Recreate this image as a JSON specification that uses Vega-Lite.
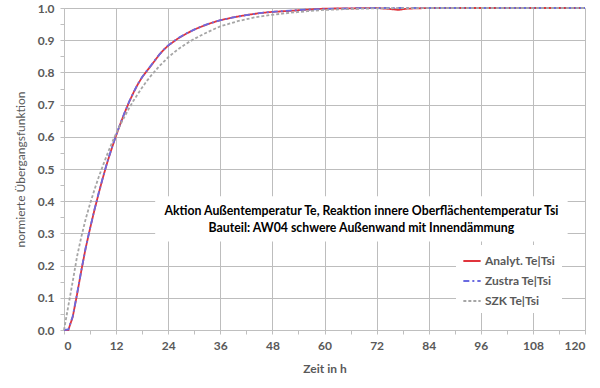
{
  "$schema": "https://vega.github.io/schema/vega-lite/v6.json",
  "width": 521,
  "height": 322,
  "autosize": {"type": "none"},
  "padding": {"left": 64, "top": 8, "right": 15, "bottom": 58},
  "background": "white",
  "config": {
    "view": {"stroke": null},
    "font": "Lato",
    "axis": {
      "labelFont": "Lato", "labelFontWeight": "bold", "labelColor": "#595959", "labelFontSize": 12,
      "titleFont": "Lato", "titleColor": "#595959", "titleFontSize": 12,
      "gridColor": "#bdbdbd", "gridWidth": 1, "domainColor": "#bfbfbf", "tickColor": "#bfbfbf", "tickSize": 4,
      "grid": true, "labelOverlap": false
    }
  },
  "datasets": {
    "curves": [
      {"t": 0, "v": 0, "s": "Analyt. Te|Tsi"},
      {"t": 1, "v": 0.0, "s": "Analyt. Te|Tsi"},
      {"t": 2, "v": 0.04, "s": "Analyt. Te|Tsi"},
      {"t": 3, "v": 0.11, "s": "Analyt. Te|Tsi"},
      {"t": 4, "v": 0.185, "s": "Analyt. Te|Tsi"},
      {"t": 5, "v": 0.255, "s": "Analyt. Te|Tsi"},
      {"t": 6, "v": 0.315, "s": "Analyt. Te|Tsi"},
      {"t": 7, "v": 0.372, "s": "Analyt. Te|Tsi"},
      {"t": 8, "v": 0.425, "s": "Analyt. Te|Tsi"},
      {"t": 9, "v": 0.475, "s": "Analyt. Te|Tsi"},
      {"t": 10, "v": 0.522, "s": "Analyt. Te|Tsi"},
      {"t": 11, "v": 0.564, "s": "Analyt. Te|Tsi"},
      {"t": 12, "v": 0.604, "s": "Analyt. Te|Tsi"},
      {"t": 13, "v": 0.641, "s": "Analyt. Te|Tsi"},
      {"t": 14, "v": 0.676, "s": "Analyt. Te|Tsi"},
      {"t": 15, "v": 0.708, "s": "Analyt. Te|Tsi"},
      {"t": 16, "v": 0.737, "s": "Analyt. Te|Tsi"},
      {"t": 17, "v": 0.763, "s": "Analyt. Te|Tsi"},
      {"t": 18, "v": 0.785, "s": "Analyt. Te|Tsi"},
      {"t": 19, "v": 0.803, "s": "Analyt. Te|Tsi"},
      {"t": 20, "v": 0.82, "s": "Analyt. Te|Tsi"},
      {"t": 21, "v": 0.838, "s": "Analyt. Te|Tsi"},
      {"t": 22, "v": 0.856, "s": "Analyt. Te|Tsi"},
      {"t": 23, "v": 0.871, "s": "Analyt. Te|Tsi"},
      {"t": 24, "v": 0.883, "s": "Analyt. Te|Tsi"},
      {"t": 26, "v": 0.903, "s": "Analyt. Te|Tsi"},
      {"t": 28, "v": 0.919, "s": "Analyt. Te|Tsi"},
      {"t": 30, "v": 0.933, "s": "Analyt. Te|Tsi"},
      {"t": 32, "v": 0.944, "s": "Analyt. Te|Tsi"},
      {"t": 34, "v": 0.954, "s": "Analyt. Te|Tsi"},
      {"t": 36, "v": 0.962, "s": "Analyt. Te|Tsi"},
      {"t": 39, "v": 0.971, "s": "Analyt. Te|Tsi"},
      {"t": 42, "v": 0.978, "s": "Analyt. Te|Tsi"},
      {"t": 45, "v": 0.984, "s": "Analyt. Te|Tsi"},
      {"t": 48, "v": 0.988, "s": "Analyt. Te|Tsi"},
      {"t": 52, "v": 0.991, "s": "Analyt. Te|Tsi"},
      {"t": 56, "v": 0.995, "s": "Analyt. Te|Tsi"},
      {"t": 60, "v": 0.998, "s": "Analyt. Te|Tsi"},
      {"t": 66, "v": 0.999, "s": "Analyt. Te|Tsi"},
      {"t": 72, "v": 1.0, "s": "Analyt. Te|Tsi"},
      {"t": 75, "v": 0.997, "s": "Analyt. Te|Tsi"},
      {"t": 77, "v": 0.994, "s": "Analyt. Te|Tsi"},
      {"t": 79, "v": 0.998, "s": "Analyt. Te|Tsi"},
      {"t": 84, "v": 1.0, "s": "Analyt. Te|Tsi"},
      {"t": 96, "v": 1.0, "s": "Analyt. Te|Tsi"},
      {"t": 108, "v": 1.0, "s": "Analyt. Te|Tsi"},
      {"t": 120, "v": 1.0, "s": "Analyt. Te|Tsi"},

      {"t": 0, "v": 0, "s": "Zustra Te|Tsi"},
      {"t": 1, "v": 0.002, "s": "Zustra Te|Tsi"},
      {"t": 2, "v": 0.042, "s": "Zustra Te|Tsi"},
      {"t": 3, "v": 0.112, "s": "Zustra Te|Tsi"},
      {"t": 4, "v": 0.186, "s": "Zustra Te|Tsi"},
      {"t": 5, "v": 0.256, "s": "Zustra Te|Tsi"},
      {"t": 6, "v": 0.316, "s": "Zustra Te|Tsi"},
      {"t": 7, "v": 0.373, "s": "Zustra Te|Tsi"},
      {"t": 8, "v": 0.426, "s": "Zustra Te|Tsi"},
      {"t": 9, "v": 0.476, "s": "Zustra Te|Tsi"},
      {"t": 10, "v": 0.523, "s": "Zustra Te|Tsi"},
      {"t": 11, "v": 0.565, "s": "Zustra Te|Tsi"},
      {"t": 12, "v": 0.605, "s": "Zustra Te|Tsi"},
      {"t": 13, "v": 0.642, "s": "Zustra Te|Tsi"},
      {"t": 14, "v": 0.677, "s": "Zustra Te|Tsi"},
      {"t": 15, "v": 0.709, "s": "Zustra Te|Tsi"},
      {"t": 16, "v": 0.738, "s": "Zustra Te|Tsi"},
      {"t": 17, "v": 0.764, "s": "Zustra Te|Tsi"},
      {"t": 18, "v": 0.786, "s": "Zustra Te|Tsi"},
      {"t": 19, "v": 0.804, "s": "Zustra Te|Tsi"},
      {"t": 20, "v": 0.821, "s": "Zustra Te|Tsi"},
      {"t": 21, "v": 0.839, "s": "Zustra Te|Tsi"},
      {"t": 22, "v": 0.856, "s": "Zustra Te|Tsi"},
      {"t": 23, "v": 0.871, "s": "Zustra Te|Tsi"},
      {"t": 24, "v": 0.884, "s": "Zustra Te|Tsi"},
      {"t": 26, "v": 0.904, "s": "Zustra Te|Tsi"},
      {"t": 28, "v": 0.92, "s": "Zustra Te|Tsi"},
      {"t": 30, "v": 0.933, "s": "Zustra Te|Tsi"},
      {"t": 32, "v": 0.945, "s": "Zustra Te|Tsi"},
      {"t": 34, "v": 0.954, "s": "Zustra Te|Tsi"},
      {"t": 36, "v": 0.962, "s": "Zustra Te|Tsi"},
      {"t": 39, "v": 0.971, "s": "Zustra Te|Tsi"},
      {"t": 42, "v": 0.978, "s": "Zustra Te|Tsi"},
      {"t": 45, "v": 0.984, "s": "Zustra Te|Tsi"},
      {"t": 48, "v": 0.988, "s": "Zustra Te|Tsi"},
      {"t": 52, "v": 0.992, "s": "Zustra Te|Tsi"},
      {"t": 56, "v": 0.995, "s": "Zustra Te|Tsi"},
      {"t": 60, "v": 0.997, "s": "Zustra Te|Tsi"},
      {"t": 66, "v": 0.999, "s": "Zustra Te|Tsi"},
      {"t": 72, "v": 1.0, "s": "Zustra Te|Tsi"},
      {"t": 84, "v": 1.0, "s": "Zustra Te|Tsi"},
      {"t": 96, "v": 1.0, "s": "Zustra Te|Tsi"},
      {"t": 108, "v": 1.0, "s": "Zustra Te|Tsi"},
      {"t": 120, "v": 1.0, "s": "Zustra Te|Tsi"},

      {"t": 0, "v": 0, "s": "SZK Te|Tsi"},
      {"t": 1, "v": 0.075, "s": "SZK Te|Tsi"},
      {"t": 2, "v": 0.15, "s": "SZK Te|Tsi"},
      {"t": 3, "v": 0.228, "s": "SZK Te|Tsi"},
      {"t": 4, "v": 0.29, "s": "SZK Te|Tsi"},
      {"t": 5, "v": 0.345, "s": "SZK Te|Tsi"},
      {"t": 6, "v": 0.392, "s": "SZK Te|Tsi"},
      {"t": 7, "v": 0.435, "s": "SZK Te|Tsi"},
      {"t": 8, "v": 0.475, "s": "SZK Te|Tsi"},
      {"t": 9, "v": 0.512, "s": "SZK Te|Tsi"},
      {"t": 10, "v": 0.547, "s": "SZK Te|Tsi"},
      {"t": 11, "v": 0.58, "s": "SZK Te|Tsi"},
      {"t": 12, "v": 0.61, "s": "SZK Te|Tsi"},
      {"t": 13, "v": 0.638, "s": "SZK Te|Tsi"},
      {"t": 14, "v": 0.664, "s": "SZK Te|Tsi"},
      {"t": 15, "v": 0.689, "s": "SZK Te|Tsi"},
      {"t": 16, "v": 0.712, "s": "SZK Te|Tsi"},
      {"t": 17, "v": 0.733, "s": "SZK Te|Tsi"},
      {"t": 18, "v": 0.753, "s": "SZK Te|Tsi"},
      {"t": 19, "v": 0.772, "s": "SZK Te|Tsi"},
      {"t": 20, "v": 0.789, "s": "SZK Te|Tsi"},
      {"t": 22, "v": 0.82, "s": "SZK Te|Tsi"},
      {"t": 24, "v": 0.847, "s": "SZK Te|Tsi"},
      {"t": 26, "v": 0.869, "s": "SZK Te|Tsi"},
      {"t": 28, "v": 0.888, "s": "SZK Te|Tsi"},
      {"t": 30, "v": 0.904, "s": "SZK Te|Tsi"},
      {"t": 32, "v": 0.918, "s": "SZK Te|Tsi"},
      {"t": 34, "v": 0.931, "s": "SZK Te|Tsi"},
      {"t": 36, "v": 0.943, "s": "SZK Te|Tsi"},
      {"t": 40, "v": 0.959, "s": "SZK Te|Tsi"},
      {"t": 44, "v": 0.971, "s": "SZK Te|Tsi"},
      {"t": 48, "v": 0.979, "s": "SZK Te|Tsi"},
      {"t": 52, "v": 0.985, "s": "SZK Te|Tsi"},
      {"t": 56, "v": 0.99, "s": "SZK Te|Tsi"},
      {"t": 60, "v": 0.994, "s": "SZK Te|Tsi"},
      {"t": 66, "v": 0.997, "s": "SZK Te|Tsi"},
      {"t": 72, "v": 0.999, "s": "SZK Te|Tsi"},
      {"t": 84, "v": 1.0, "s": "SZK Te|Tsi"},
      {"t": 96, "v": 1.0, "s": "SZK Te|Tsi"},
      {"t": 108, "v": 1.0, "s": "SZK Te|Tsi"},
      {"t": 120, "v": 1.0, "s": "SZK Te|Tsi"}
    ],
    "box": [{"t": 21, "t2": 116, "v": 0.275, "v2": 0.415}],
    "note": [
      {"t": 68.5, "v": 0.37, "label": "Aktion Außentemperatur Te, Reaktion innere Oberflächentemperatur Tsi"},
      {"t": 68.5, "v": 0.318, "label": "Bauteil: AW04 schwere Außenwand mit Innendämmung"}
    ]
  },
  "encoding": {
    "x": {
      "field": "t", "type": "quantitative",
      "scale": {"domain": [0, 120], "nice": false},
      "axis": {
        "title": "Zeit in h", "titleFontWeight": "bold", "titlePadding": 12,
        "values": [0, 6, 12, 18, 24, 30, 36, 42, 48, 54, 60, 66, 72, 78, 84, 90, 96, 102, 108, 114, 120],
        "labelExpr": "datum.value % 12 == 0 ? datum.label : ''",
        "gridOpacity": {"condition": {"test": "datum.value % 12 != 0", "value": 0}, "value": 1},
        "grid": true, "labelPadding": 6
      }
    },
    "y": {
      "field": "v", "type": "quantitative",
      "scale": {"domain": [0, 1], "nice": false},
      "axis": {
        "title": "normierte Übergangsfunktion", "titleFontWeight": "normal", "titlePadding": 10,
        "values": [0, 0.05, 0.1, 0.15, 0.2, 0.25, 0.3, 0.35, 0.4, 0.45, 0.5, 0.55, 0.6, 0.65, 0.7, 0.75, 0.8, 0.85, 0.9, 0.95, 1.0],
        "labelExpr": "round(datum.value*20) % 2 == 0 ? format(datum.value, '.1f') : ''",
        "gridOpacity": {"condition": {"test": "round(datum.value*20) % 2 == 1", "value": 0}, "value": 1},
        "grid": true, "labelPadding": 6
      }
    }
  },
  "layer": [
    {
      "data": {"name": "curves"},
      "mark": {"type": "line", "strokeWidth": 1.8},
      "encoding": {
        "color": {
          "field": "s", "type": "nominal",
          "scale": {"domain": ["Analyt. Te|Tsi", "Zustra Te|Tsi", "SZK Te|Tsi"], "range": ["#e0343c", "#6a6ae0", "#a6a6a6"]},
          "legend": {
            "title": null, "orient": "none", "legendX": 392, "legendY": 237,
            "fillColor": "white", "padding": 6, "symbolType": "stroke", "symbolSize": 300,
            "symbolStrokeWidth": 2, "labelFont": "Lato", "labelFontSize": 12, "labelFontWeight": "bold",
            "labelColor": "#595959", "rowPadding": 4, "labelOffset": 3
          }
        },
        "strokeDash": {
          "field": "s", "type": "nominal",
          "scale": {"domain": ["Analyt. Te|Tsi", "Zustra Te|Tsi", "SZK Te|Tsi"], "range": [[1, 0], [6, 3, 2, 3], [3, 2]]},
          "legend": null
        },
        "order": {"field": "t", "type": "quantitative"}
      }
    },
    {
      "data": {"name": "box"},
      "mark": {"type": "rect", "fill": "white"},
      "encoding": {
        "x2": {"field": "t2"},
        "y2": {"field": "v2"}
      }
    },
    {
      "data": {"name": "note"},
      "mark": {"type": "text", "font": "Lato", "fontWeight": "bold", "fontSize": 12.3, "color": "#000000"},
      "encoding": {
        "text": {"field": "label"}
      }
    }
  ]
}
